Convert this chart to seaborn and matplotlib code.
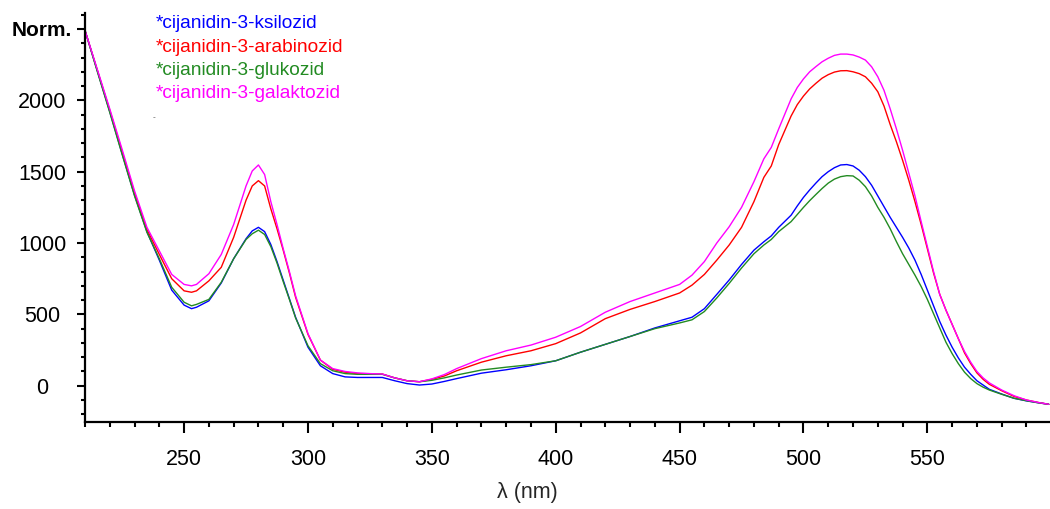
import numpy as np
import pandas as pd
import matplotlib
matplotlib.use("Agg")
import matplotlib.pyplot as plt
import seaborn as sns
from matplotlib.ticker import MultipleLocator

# wavelengths (nm) shared by all four spectra
wavelength = [210, 215, 220, 225, 230, 235, 240, 245, 250, 253, 255, 260, 265, 270, 275, 277.5,
              280, 282.5, 285, 287.5, 290, 292.5, 295, 300, 305, 310, 315, 320, 325, 330, 335,
              340, 345, 350, 355, 360, 370, 380, 390, 400, 410, 420, 430, 440, 450, 455, 460,
              465, 470, 475, 480, 484, 487, 490, 495, 497.5, 500, 502.5, 505, 507.5, 510, 512.5,
              515, 517.5, 520, 522.5, 525, 527.5, 530, 532.5, 535, 537.5, 540, 542.5, 545, 547.5,
              550, 552.5, 555, 557.5, 560, 562.5, 565, 567.5, 570, 572.5, 575, 580, 585, 590,
              595, 599]

ksilozid = [2490, 2205, 1920, 1625, 1335, 1080, 880, 670, 565, 540, 550, 595, 720, 890, 1030, 1085,
            1110, 1080, 990, 870, 740, 610, 480, 270, 140, 85, 62, 58, 58, 58, 35,
            15, 5, 12, 30, 50, 88, 112, 140, 175, 235, 290, 345, 405, 455, 480, 540,
            640, 741, 850, 950, 1009, 1050, 1110, 1195, 1260, 1320, 1372, 1420, 1465, 1500, 1528,
            1547, 1550, 1540, 1510, 1465, 1405, 1330, 1255, 1180, 1110, 1040, 965, 880, 780,
            670, 560, 450, 355, 270, 195, 130, 80, 35, 5, -25, -58, -88, -106,
            -120, -130]
arabinozid = [2490, 2210, 1930, 1640, 1350, 1095, 920, 750, 665, 655, 665, 735, 830, 1040, 1300, 1400,
              1437, 1400, 1240, 1100, 950, 790, 620, 360, 180, 115, 95, 85, 82, 82, 55,
              35, 28, 45, 68, 105, 165, 210, 245, 295, 370, 470, 535, 590, 650, 705, 780,
              880, 986, 1110, 1290, 1460, 1540, 1690, 1890, 1970, 2030, 2080, 2119, 2155, 2180, 2198,
              2207, 2208, 2200, 2187, 2165, 2120, 2060, 1960, 1830, 1710, 1580, 1440, 1290, 1130,
              960, 790, 640, 530, 430, 330, 230, 155, 90, 45, 10, -35, -75, -100,
              -118, -130]
glukozid = [2490, 2200, 1915, 1620, 1330, 1075, 890, 690, 585, 560, 570, 605, 725, 890, 1025, 1065,
            1090, 1060, 975, 860, 730, 605, 475, 280, 155, 105, 85, 80, 80, 80, 55,
            35, 28, 38, 55, 75, 110, 130, 148, 175, 235, 290, 345, 400, 440, 462, 520,
            615, 717, 825, 925, 986, 1025, 1080, 1150, 1200, 1250, 1297, 1340, 1382, 1420, 1448,
            1465, 1472, 1470, 1440, 1395, 1330, 1250, 1180, 1100, 1010, 925, 850, 775, 695,
            605, 505, 405, 305, 225, 155, 95, 50, 15, -10, -30, -60, -88, -105,
            -120, -130]
galaktozid = [2490, 2215, 1940, 1655, 1365, 1110, 945, 780, 710, 700, 710, 785, 920, 1130, 1400, 1505,
              1547, 1480, 1290, 1130, 960, 800, 630, 365, 180, 120, 100, 90, 85, 82, 55,
              35, 28, 48, 78, 120, 190, 245, 285, 340, 415, 515, 590, 650, 710, 775, 870,
              1000, 1114, 1250, 1430, 1590, 1670, 1800, 2010, 2090, 2150, 2200, 2236, 2270, 2295, 2315,
              2324, 2324, 2318, 2303, 2282, 2235, 2165, 2070, 1940, 1800, 1650, 1490, 1330, 1150,
              975, 800, 640, 530, 430, 330, 240, 165, 100, 55, 20, -30, -70, -100,
              -118, -130]

labels = ["*cijanidin-3-ksilozid", "*cijanidin-3-arabinozid",
          "*cijanidin-3-glukozid", "*cijanidin-3-galaktozid"]
colors = ["#0000ff", "#ff0000", "#228b22", "#ff00ff"]
yticks = [0, 500, 1000, 1500, 2000, 2500]
ytick_labels = ["0", "500", "1000", "1500", "2000", "Norm."]
xticks = [250, 300, 350, 400, 450, 500, 550]

df = pd.DataFrame({
    "wavelength": wavelength * 4,
    "value": ksilozid + arabinozid + glukozid + galaktozid,
    "series": np.repeat(labels, len(wavelength)),
})

sns.set_theme(style="ticks")
plt.rcParams["font.family"] = ["Liberation Sans", "DejaVu Sans"]

fig = plt.figure(figsize=(10.5, 5.09), dpi=100)
ax = fig.add_axes([85 / 1050, 87.3 / 509, 965 / 1050, 409 / 509])

sns.lineplot(data=df, x="wavelength", y="value", hue="series", hue_order=labels,
             palette=dict(zip(labels, colors)), linewidth=1.0, legend=False, ax=ax,
             estimator=None, sort=False)

ax.set_xlim(210, 599.5)
ax.set_ylim(-252, 2614)
ax.set_xticks(xticks)
ax.xaxis.set_minor_locator(MultipleLocator(10))
ax.set_yticks(yticks)
ax.set_yticklabels(ytick_labels)
ax.yaxis.set_minor_locator(MultipleLocator(100))

for s in ["top", "right"]:
    ax.spines[s].set_visible(False)
for s in ["left", "bottom"]:
    ax.spines[s].set_linewidth(1.6)
    ax.spines[s].set_color("black")

ax.tick_params(axis="x", which="major", direction="out", length=8, width=1.5,
               labelsize=15.5, pad=12, colors="black")
ax.tick_params(axis="x", which="minor", direction="out", length=3.6, width=1.5, colors="black")
ax.tick_params(axis="y", which="major", direction="out", length=5.8, width=1.5,
               labelsize=15.5, pad=25, colors="black")
ax.tick_params(axis="y", which="minor", direction="out", length=3.2, width=1.5, colors="black")

# y labels in the original are centred in their column
for t in ax.get_yticklabels():
    t.set_horizontalalignment("center")
norm = ax.get_yticklabels()[-1]
norm.set_fontweight("bold")
norm.set_fontsize(15)

ax.set_xlabel("λ (nm)", fontsize=15.5, verticalalignment="center")
ax.xaxis.set_label_coords(0.458, -0.174)
ax.set_ylabel("")

# coloured legend text, no handles
for i, (lab, col) in enumerate(zip(labels, colors)):
    fig.text(156 / 1050, (509 - 28.3 - 23.3 * i) / 509, lab, color=col,
             fontsize=13.8, va="baseline", ha="left")
fig.text(153 / 1050, (509 - 117.7) / 509, "-", color="#555555", fontsize=6,
         va="center", ha="left")

fig.savefig("out.png", dpi=100, facecolor="white")
